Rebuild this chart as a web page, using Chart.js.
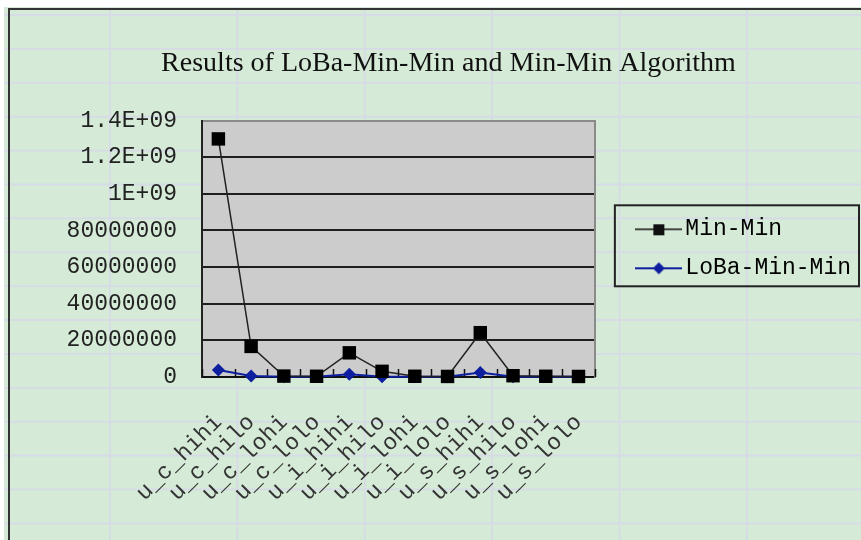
<!DOCTYPE html>
<html>
<head>
<meta charset="utf-8">
<title>Results of LoBa-Min-Min and Min-Min Algorithm</title>
<script src="https://cdn.jsdelivr.net/npm/chart.js@4.4.1/dist/chart.umd.min.js"></script>
<style>
  body { margin: 0; background: #ffffff; }
  #sheet {
    position: absolute; left: 4px; top: 7px; width: 857px; height: 533px;
    background-color: #d5ebd7;
    background-image:
      linear-gradient(to right, #d7dbe6 2px, transparent 2px),
      linear-gradient(to bottom, #d7dbe6 2px, transparent 2px);
    background-size: 127.4px 100%, 100% 33.9px;
    background-position: 105px 0, 0 7px;
  }
  #frame {
    position: absolute; left: 8px; top: 8px; width: 861px; height: 540px;
    border-left: 2px solid #333; border-top: 2px solid #333;
  }
  #wrap { position: absolute; left: 0; top: 0; width: 861px; height: 540px; }
</style>
</head>
<body>
<div id="sheet"></div>
<div id="frame"></div>
<div id="wrap"><canvas id="chart"></canvas></div>
<script>
// categories (x axis)
const categories = [
  "u_c_hihi", "u_c_hilo", "u_c_lohi", "u_c_lolo",
  "u_i_hihi", "u_i_hilo", "u_i_lohi", "u_i_lolo",
  "u_s_hihi", "u_s_hilo", "u_s_lohi", "u_s_lolo"
];

// series values
const minMin = [1.30e9, 1.67e8, 5e6, 4e6, 1.32e8, 3.1e7, 4e6, 3e6, 2.42e8, 7e6, 4e6, 3e6];
const lobaMinMin = [3.8e7, 5e6, 1e6, 1e6, 1.5e7, 1e6, 1e6, 1e6, 2.4e7, 1e6, 1e6, 1e6];

// y tick labels exactly as printed on the axis (bottom to top)
const yTickLabels = ["0", "20000000", "40000000", "60000000", "80000000", "1E+09", "1.2E+09", "1.4E+09"];
const yMax = 1.4e9;
const yStep = 2e8;

const monoFont = "'Liberation Mono', 'DejaVu Sans Mono', monospace";

// little line+marker swatch for the legend
function legendSwatch(color, lineWidth, shape) {
  const c = document.createElement("canvas");
  c.width = 47;
  c.height = 16;
  const g = c.getContext("2d");
  g.strokeStyle = color;
  g.lineWidth = lineWidth;
  g.beginPath();
  g.moveTo(0, 8);
  g.lineTo(47, 8);
  g.stroke();
  g.fillStyle = color;
  if (shape === "square") {
    g.fillRect(18, 3, 11, 11);
  } else {
    g.beginPath();
    g.moveTo(23.5, 2);
    g.lineTo(29.5, 8);
    g.lineTo(23.5, 14);
    g.lineTo(17.5, 8);
    g.closePath();
    g.fill();
  }
  return c;
}

// plot background, inward category ticks, box round the legend
const excelLook = {
  id: "excelLook",
  beforeDraw(chart) {
    const { ctx, chartArea } = chart;
    ctx.save();
    ctx.fillStyle = "#cccccc";
    ctx.fillRect(chartArea.left, chartArea.top, chartArea.right - chartArea.left, chartArea.bottom - chartArea.top);
    ctx.restore();
  },
  beforeDatasetsDraw(chart) {
    const { ctx, chartArea } = chart;
    const xs = chart.scales.x;
    ctx.save();
    ctx.strokeStyle = "#111";
    ctx.lineWidth = 1.5;
    for (let i = 0; i <= categories.length; i++) {
      const px = Math.round(xs.getPixelForValue(i - 0.5)) + 0.5;
      ctx.beginPath();
      ctx.moveTo(px, chartArea.bottom);
      ctx.lineTo(px, chartArea.bottom - 8);
      ctx.stroke();
    }
    ctx.restore();
  },
  afterDraw(chart) {
    const boxes = chart.legend.legendHitBoxes;
    if (!boxes || !boxes.length) return;
    const first = boxes[0];
    const last = boxes[boxes.length - 1];
    const right = Math.max(...boxes.map(b => b.left + b.width));
    const top = first.top - 12.5;
    const bottom = last.top + 29.5;
    const left = first.left - 29;
    const { ctx } = chart;
    ctx.save();
    ctx.strokeStyle = "#222";
    ctx.lineWidth = 2;
    ctx.strokeRect(left, top, right + 8 - left, bottom - top);
    ctx.restore();
  }
};

const ctx = document.getElementById("chart").getContext("2d");

new Chart(ctx, {
  type: "line",
  data: {
    labels: categories,
    datasets: [
      {
        label: "Min-Min",
        data: minMin,
        borderColor: "#222222",
        backgroundColor: "#000000",
        borderWidth: 1.5,
        pointStyle: "rect",
        pointRadius: 9.5,
        pointBorderWidth: 0,
        pointBackgroundColor: "#000000",
        tension: 0,
        clip: false
      },
      {
        label: "LoBa-Min-Min",
        data: lobaMinMin,
        borderColor: "#0d1f9e",
        backgroundColor: "#0d1f9e",
        borderWidth: 2,
        pointStyle: "rectRot",
        pointRadius: 6.5,
        pointBorderWidth: 0,
        pointBackgroundColor: "#0d1f9e",
        tension: 0,
        clip: false
      }
    ]
  },
  options: {
    responsive: true,
    maintainAspectRatio: false,
    animation: false,
    events: [],
    layout: { padding: { left: 36, right: 0, top: 8, bottom: 8 } },
    plugins: {
      title: {
        display: true,
        text: "Results of LoBa-Min-Min and Min-Min Algorithm",
        color: "#111",
        font: { family: "'Liberation Serif', 'Times New Roman', serif", size: 28, weight: "normal" },
        padding: { top: 39, bottom: 40 }
      },
      legend: {
        position: "right",
        fullSize: false,
        align: "center",
        maxWidth: 240,
        labels: {
          usePointStyle: true,
          pointStyleWidth: 30,
          padding: 16,
          color: "#111",
          font: { family: monoFont, size: 23 },
          generateLabels() {
            return [
              { text: "Min-Min", pointStyle: legendSwatch("#111", 1.5, "square"), fillStyle: "#000", strokeStyle: "#000", lineWidth: 0, datasetIndex: 0 },
              { text: "LoBa-Min-Min", pointStyle: legendSwatch("#0d1f9e", 2, "diamond"), fillStyle: "#0d1f9e", strokeStyle: "#0d1f9e", lineWidth: 0, datasetIndex: 1 }
            ];
          }
        }
      },
      tooltip: { enabled: false }
    },
    scales: {
      x: {
        offset: true,
        grid: { display: false },
        border: { display: true, color: "#111", width: 2 },
        ticks: {
          color: "#333",
          font: { family: monoFont, size: 23 },
          minRotation: 45,
          maxRotation: 45,
          autoSkip: false,
          padding: 24
        },
        afterFit(scale) { scale.height = 155; }
      },
      y: {
        min: 0,
        max: yMax,
        grid: {
          drawTicks: false,
          color: c => (c.tick && c.tick.value === yMax ? "#8a8a8a" : "#1e1e1e"),
          lineWidth: 2
        },
        border: { display: true, color: "#222", width: 2 },
        ticks: {
          stepSize: yStep,
          padding: 25,
          color: "#222",
          font: { family: monoFont, size: 23 },
          callback: (value, index) => yTickLabels[index]
        },
        afterFit(scale) { scale.width = 166; }
      },
      yRight: {
        type: "linear",
        position: "right",
        min: 0,
        max: yMax,
        grid: { drawOnChartArea: false, drawTicks: false },
        border: { display: true, color: "#8a8a8a", width: 2 },
        ticks: { display: false },
        afterFit(scale) { scale.width = 33; }
      }
    }
  },
  plugins: [excelLook]
});
</script>
</body>
</html>
